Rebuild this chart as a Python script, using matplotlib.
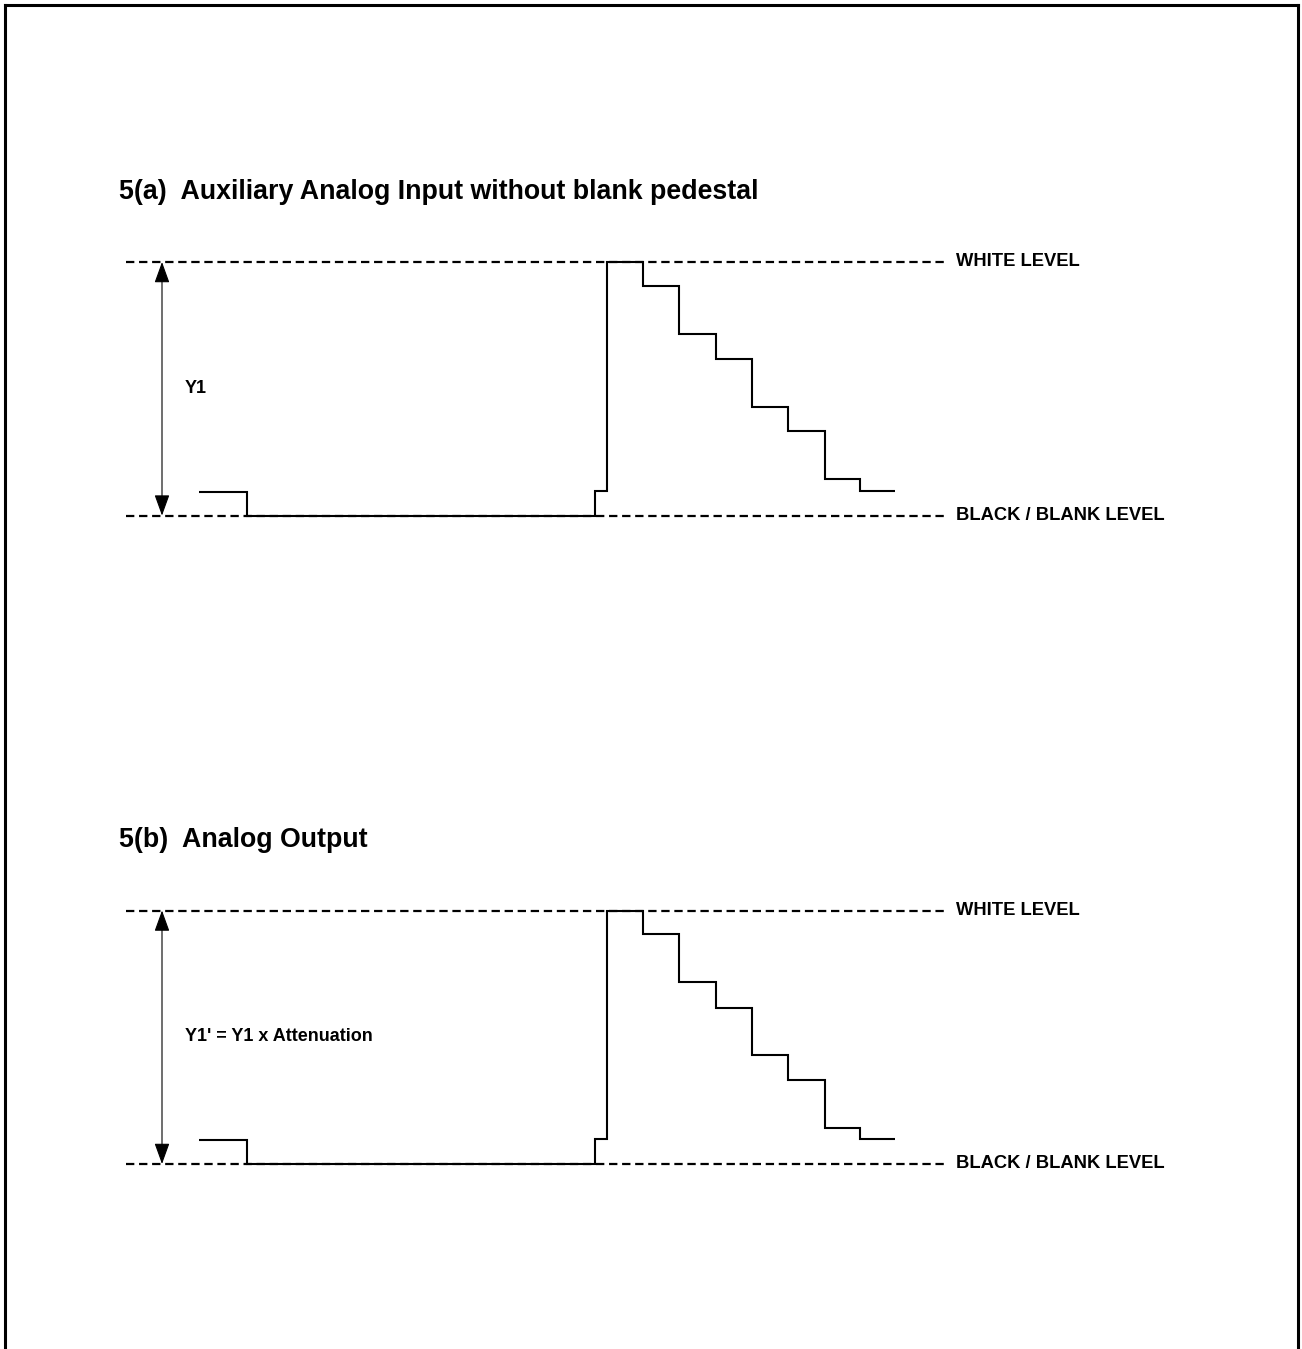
import matplotlib
matplotlib.use("Agg")
import matplotlib.pyplot as plt
from matplotlib.lines import Line2D

plt.rcParams['font.family'] = ['Liberation Sans', 'DejaVu Sans']
plt.rcParams['lines.scale_dashes'] = False

# ---- data (time axis in arbitrary units, level: 0 = black, 1 = white) ----
step_edges = [199, 247, 595, 607, 643, 679, 716, 752, 788, 825, 860, 895]
step_levels_in = [0.094, 0.0, 0.098, 1.0, 0.907, 0.716, 0.617, 0.429, 0.333, 0.143, 0.097]
step_levels_out = [0.094, 0.0, 0.098, 1.0, 0.907, 0.716, 0.617, 0.429, 0.333, 0.143, 0.097]
ref_levels = [1.0, 0.0]
ref_labels = ["WHITE LEVEL", "BLACK / BLANK LEVEL"]
ref_x_range = [126, 944]
arrow_x = 162
titles = ["5(a)  Auxiliary Analog Input without blank pedestal", "5(b)  Analog Output"]
span_labels = ["Y1", "Y1' = Y1 x Attenuation"]

W, H = 1302, 1349
fig = plt.figure(figsize=(W / 100, H / 100), dpi=100)

# panel positions: (level-0 pixel y, level-1 pixel y)
panels = [(515.6, 262.0), (1164.0, 910.5)]
levels_sets = [step_levels_in, step_levels_out]

for (y0, y1), levels, title, span in zip(panels, levels_sets, titles, span_labels):
    ax = fig.add_axes([0, 1 - y0 / H, 1, (y0 - y1) / H])
    ax.set_xlim(0, W)
    ax.set_ylim(0, 1)
    ax.axis('off')

    for lvl, lab in zip(ref_levels, ref_labels):
        ax.plot(ref_x_range, [lvl, lvl], color='black', lw=1.6,
                linestyle=(0, (6.0, 3.4)), solid_capstyle='butt', clip_on=False)
        ax.text(956, lvl, lab, fontsize=13.2, fontweight='bold', va='center', ha='left')

    ax.stairs(levels, step_edges, baseline=None, color='black', lw=1.5, clip_on=False)

    ax.annotate("", xy=(arrow_x, 1.0), xytext=(arrow_x, 0.0),
                arrowprops=dict(arrowstyle='<|-|>,head_length=1.3,head_width=0.47',
                                mutation_scale=10, color='black', lw=0.8,
                                shrinkA=0, shrinkB=0))
    ax.text(185, 0.503, span, fontsize=13, fontweight='bold', va='center', ha='left')
    ax.text(119, 1.25, title, fontsize=19.3, fontweight='bold', va='baseline', ha='left',
            clip_on=False)

# page border (top, left, right)
bw = 2.2
fig.add_artist(Line2D([5 / W, 1298 / W], [1 - 5 / H, 1 - 5 / H], transform=fig.transFigure,
                      color='black', lw=bw, solid_capstyle='projecting'))
fig.add_artist(Line2D([5 / W, 5 / W], [0, 1 - 5 / H], transform=fig.transFigure,
                      color='black', lw=bw))
fig.add_artist(Line2D([1298 / W, 1298 / W], [0, 1 - 5 / H], transform=fig.transFigure,
                      color='black', lw=bw))

fig.savefig("out.png", dpi=100)
